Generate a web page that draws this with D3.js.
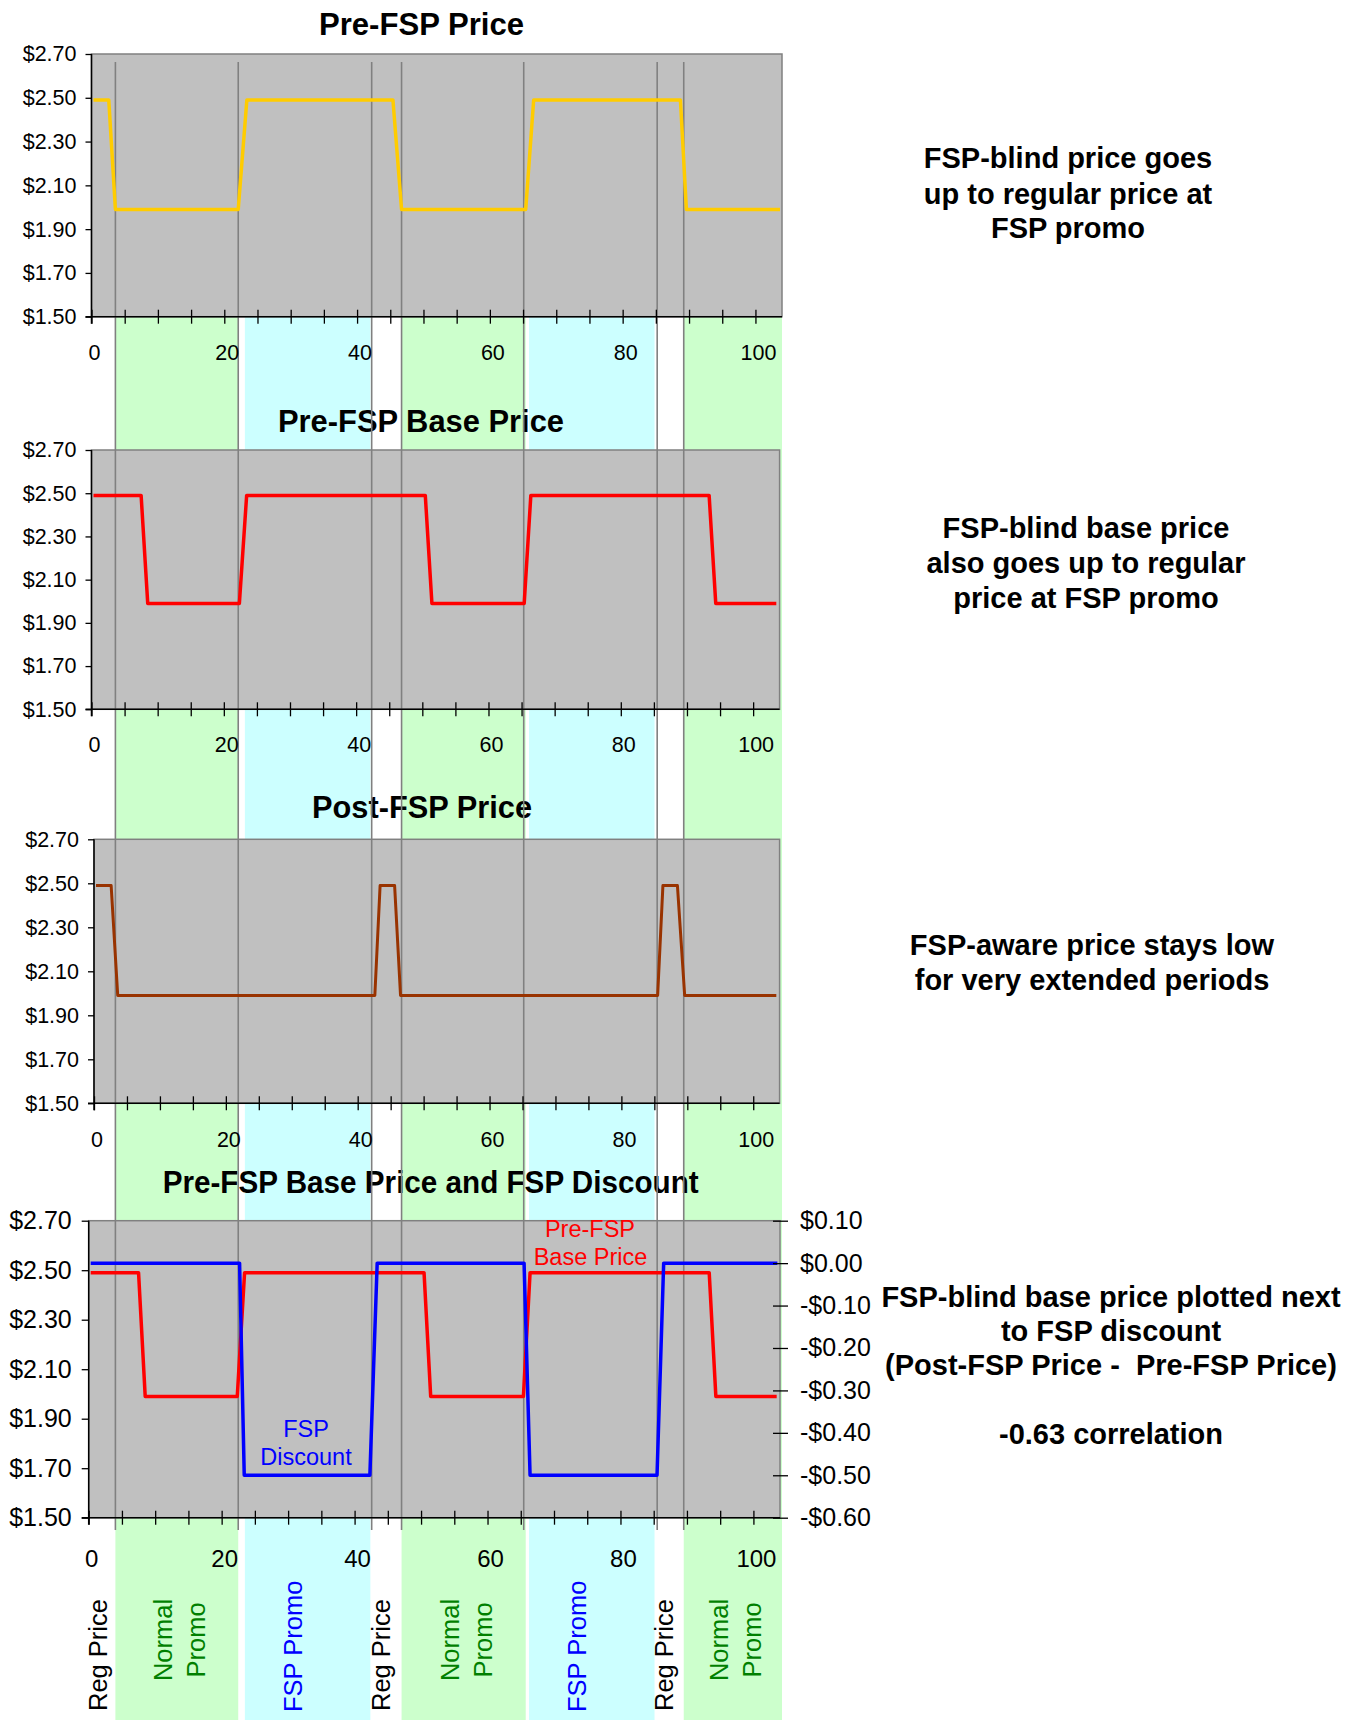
<!DOCTYPE html>
<html><head><meta charset="utf-8">
<script src="https://cdn.jsdelivr.net/npm/d3@7"></script>
<style>
body{margin:0;background:#fff;}
svg{display:block;font-family:"Liberation Sans",Arial,Helvetica,sans-serif;}
</style></head><body>
<svg id="c" width="1360" height="1720"></svg>
<script>
// ---------------- data ----------------
const xDomain = [0, 104];
const priceTicks = [1.50, 1.70, 1.90, 2.10, 2.30, 2.50, 2.70];
const discountTicks = [-0.60, -0.50, -0.40, -0.30, -0.20, -0.10, 0.00, 0.10];
const xLabelTicks = [0, 20, 40, 60, 80, 100];
const xMinorTicks = [0, 5, 10, 15, 20, 25, 30, 35, 40, 45, 50, 55, 60, 65, 70, 75, 80, 85, 90, 95, 100];

const preFspWeek  = [0.3, 2.6, 3.6, 22.1, 23.4, 45.4, 46.7, 65.4, 66.6, 88.7, 89.6, 103.7];
const preFspPrice = [2.49, 2.49, 1.99, 1.99, 2.49, 2.49, 1.99, 1.99, 2.49, 2.49, 1.99, 1.99];

const baseWeek  = [0.3, 7.5, 8.5, 22.35, 23.45, 50.45, 51.45, 65.4, 66.4, 93.35, 94.35, 103.5];
const basePrice = [2.49, 2.49, 1.99, 1.99, 2.49, 2.49, 1.99, 1.99, 2.49, 2.49, 1.99, 1.99];

const postWeek  = [0.3, 2.6, 3.6, 42.6, 43.4, 45.6, 46.5, 85.5, 86.3, 88.5, 89.6, 103.5];
const postPrice = [2.49, 2.49, 1.99, 1.99, 2.49, 2.49, 1.99, 1.99, 2.49, 2.49, 1.99, 1.99];

const discWeek  = [0.3, 22.7, 23.4, 42.3, 43.4, 65.5, 66.4, 85.5, 86.5, 103.6];
const discValue = [0, 0, -0.50, -0.50, 0, 0, -0.50, -0.50, 0, 0];

const phaseKind  = ["reg", "normal", "fsp", "reg", "normal", "fsp", "reg", "normal"];
const phaseStart = [0, 3.6, 23.1, 42.0, 46.7, 65.9, 84.8, 89.2];
const phaseEnd   = [3.6, 22.1, 42.0, 46.7, 65.4, 84.8, 89.2, 104];
const boundaryWeeks = [3.6, 22.1, 42.2, 46.7, 65.1, 85.2, 89.2];

const titles = ["Pre-FSP Price", "Pre-FSP Base Price", "Post-FSP Price", "Pre-FSP Base Price and FSP Discount"];
const notes = [
  ["FSP-blind price goes", "up to regular price at", "FSP promo"],
  ["FSP-blind base price", "also goes up to regular", "price at FSP promo"],
  ["FSP-aware price stays low", "for very extended periods"],
  ["FSP-blind base price plotted next", "to FSP discount", "(Post-FSP Price -  Pre-FSP Price)", "", "-0.63 correlation"]
];

// ---------------- layout ----------------
const panels = [
  {top: 54,     bottom: 316.7,  left: 91.5, right: 782,   titleX: 421.5, titleY: 35,   titleW: 205, xLabY: 360,  yFont: 21.5, xFont: 21.5, tick: 6, pad: 9},
  {top: 450,    bottom: 709.3,  left: 91.5, right: 779.6, titleX: 421,   titleY: 432,  titleW: 286, xLabY: 752,  yFont: 21.5, xFont: 21.5, tick: 6, pad: 9},
  {top: 839.3,  bottom: 1103.3, left: 94,   right: 779.6, titleX: 422,   titleY: 818,  titleW: 220, xLabY: 1147, yFont: 21.5, xFont: 21.5, tick: 6, pad: 9},
  {top: 1220.7, bottom: 1517.7, left: 88.7, right: 780,   titleX: 430.7, titleY: 1193, titleW: 536, xLabY: 1567, yFont: 25,   xFont: 24,   tick: 7, pad: 10}
];
const noteLayout = [
  {x: 1068, y: [168, 203.5, 238]},
  {x: 1086, y: [538, 573, 608]},
  {x: 1092, y: [955, 989.5]},
  {x: 1111, y: [1306.5, 1341, 1375, 1409, 1443.5]}
];

const loc = d3.formatLocale({decimal: ".", thousands: ",", grouping: [3], currency: ["$", ""], minus: "-"});
const fmt = loc.format("$.2f");

const svg = d3.select("#c");
const gBands = svg.append("g");
const gPlots = svg.append("g");
const gTitles = svg.append("g");
const gSep = svg.append("g");
const gLines = svg.append("g");
const gAxes = svg.append("g");
const gText = svg.append("g");

const xs = panels.map(p => d3.scaleLinear().domain(xDomain).range([p.left, p.right]));
const ys = panels.map(p => d3.scaleLinear().domain([1.5, 2.7]).range([p.bottom, p.top]));
const yDisc = d3.scaleLinear().domain([-0.6, 0.1]).range([panels[3].bottom, panels[3].top]);
const xb = xs[0];

// ---------------- phase bands ----------------
const bandFill = {reg: "none", normal: "#CCFFCC", fsp: "#CCFFFF"};
gBands.selectAll("rect").data(phaseKind.map((k, i) => i).filter(i => phaseKind[i] !== "reg"))
  .join("rect")
  .attr("x", i => xb(phaseStart[i]))
  .attr("width", i => xb(phaseEnd[i]) - xb(phaseStart[i]))
  .attr("y", panels[0].bottom)
  .attr("height", 1720 - panels[0].bottom)
  .attr("fill", i => bandFill[phaseKind[i]]);

// ---------------- plot areas ----------------
panels.forEach((p, k) => {
  gPlots.append("rect")
    .attr("x", p.left).attr("y", p.top)
    .attr("width", p.right - p.left).attr("height", p.bottom - p.top)
    .attr("fill", "#C0C0C0").attr("stroke", "#808080").attr("stroke-width", 1.5);
  gTitles.append("text")
    .attr("x", p.titleX).attr("y", p.titleY)
    .attr("text-anchor", "middle")
    .attr("font-size", 31).attr("font-weight", "bold")
    .attr("textLength", p.titleW).attr("lengthAdjust", "spacingAndGlyphs")
    .text(titles[k]);
});

// ---------------- separators ----------------
gSep.selectAll("line").data(boundaryWeeks).join("line")
  .attr("x1", d => xb(d)).attr("x2", d => xb(d))
  .attr("y1", 62).attr("y2", 1530)
  .attr("stroke", "#808080").attr("stroke-width", 1.6);

// ---------------- series ----------------
function drawSeries(k, weeks, vals, yScale, color, width) {
  const line = d3.line().x(i => xs[k](weeks[i])).y(i => yScale(vals[i]));
  gLines.append("path")
    .attr("d", line(weeks.map((w, i) => i)))
    .attr("fill", "none").attr("stroke", color)
    .attr("stroke-width", width).attr("stroke-linejoin", "round");
}
drawSeries(0, preFspWeek, preFspPrice, ys[0], "#FFCC00", 3.5);
drawSeries(1, baseWeek, basePrice, ys[1], "#FF0000", 3.5);
drawSeries(2, postWeek, postPrice, ys[2], "#993300", 3);
drawSeries(3, baseWeek, basePrice, ys[3], "#FF0000", 3.5);
drawSeries(3, discWeek, discValue, yDisc, "#0000FF", 3.5);

// ---------------- axes ----------------
panels.forEach((p, k) => {
  const ya = gAxes.append("g").attr("transform", `translate(${p.left},0)`)
    .call(d3.axisLeft(ys[k]).tickValues(priceTicks).tickSize(p.tick).tickSizeOuter(0).tickPadding(p.pad).tickFormat(fmt));
  ya.select(".domain").remove();
  ya.selectAll(".tick line").attr("stroke", "#000").attr("stroke-width", 1.3);
  ya.selectAll("text").attr("font-size", p.yFont).attr("fill", "#000");
  ya.attr("font-family", null);

  const xa = gAxes.append("g").attr("transform", `translate(0,${p.bottom})`)
    .call(d3.axisBottom(xs[k]).tickValues(xMinorTicks).tickSize(7).tickSizeOuter(0).tickFormat(""));
  xa.select(".domain").remove();
  xa.selectAll(".tick line").attr("y1", -7).attr("stroke", "#000").attr("stroke-width", 1.3);

  // axis lines
  gAxes.append("line").attr("x1", p.left - p.tick).attr("x2", p.right)
    .attr("y1", p.bottom).attr("y2", p.bottom).attr("stroke", "#000").attr("stroke-width", 1.5);
  gAxes.append("line").attr("x1", p.left).attr("x2", p.left)
    .attr("y1", p.top).attr("y2", p.bottom + 7).attr("stroke", "#000").attr("stroke-width", 1.5);

  gAxes.append("g").selectAll("text").data(xLabelTicks).join("text")
    .attr("x", d => xs[k](d) + 3).attr("y", p.xLabY)
    .attr("text-anchor", "middle").attr("font-size", p.xFont)
    .text(d => d3.format("d")(d));
});

// right axis on the last panel
{
  const p = panels[3];
  const ra = gAxes.append("g").attr("transform", `translate(${p.right},0)`)
    .call(d3.axisRight(yDisc).tickValues(discountTicks).tickSize(8).tickSizeOuter(0).tickPadding(12).tickFormat(fmt));
  ra.select(".domain").remove();
  ra.selectAll(".tick line").attr("x1", -7).attr("stroke", "#000").attr("stroke-width", 1.3);
  ra.selectAll("text").attr("font-size", 25).attr("fill", "#000");
  ra.attr("font-family", null);
}

// in-chart labels of the last panel
[["Pre-FSP", 590, 1237], ["Base Price", 590.5, 1265]].forEach(([t, x, y]) =>
  gText.append("text").attr("x", x).attr("y", y).attr("text-anchor", "middle")
    .attr("font-size", 23.5).attr("fill", "#FF0000").text(t));
[["FSP", 306, 1437], ["Discount", 306, 1464.5]].forEach(([t, x, y]) =>
  gText.append("text").attr("x", x).attr("y", y).attr("text-anchor", "middle")
    .attr("font-size", 23.5).attr("fill", "#0000FF").text(t));

// ---------------- phase labels (vertical) ----------------
phaseKind.forEach((k, i) => {
  const c = xb((phaseStart[i] + phaseEnd[i]) / 2);
  const lines = [];
  if (k === "reg") lines.push({t: "Reg Price", x: c + 4, y: 1711, anchor: "start", col: "#000"});
  if (k === "fsp") lines.push({t: "FSP Promo", x: c - 6, y: 1712, anchor: "start", col: "#0000FF"});
  if (k === "normal") {
    lines.push({t: "Normal", x: c - 5, y: 1640, anchor: "middle", col: "#008000"});
    lines.push({t: "Promo", x: c + 28, y: 1640, anchor: "middle", col: "#008000"});
  }
  lines.forEach(l => gText.append("text")
    .attr("transform", `translate(${l.x},${l.y}) rotate(-90)`)
    .attr("text-anchor", l.anchor).attr("font-size", 25.5).attr("fill", l.col).text(l.t));
});

// ---------------- side notes ----------------
notes.forEach((ls, k) => {
  ls.forEach((t, j) => {
    if (!t) return;
    gText.append("text").attr("x", noteLayout[k].x).attr("y", noteLayout[k].y[j])
      .attr("text-anchor", "middle").attr("font-size", 29).attr("font-weight", "bold")
      .style("white-space", "pre").text(t);
  });
});
</script>
</body></html>
